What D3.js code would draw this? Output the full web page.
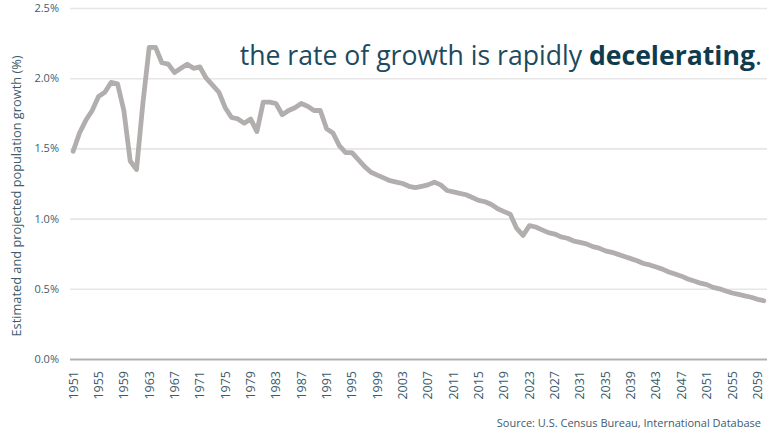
<!DOCTYPE html>
<html>
<head>
<meta charset="utf-8">
<script src="https://cdn.jsdelivr.net/npm/d3@7"></script>
<style>
  body { margin: 0; background: #fff; }
  svg { display: block; font-family: "Open Sans", sans-serif; }
</style>
</head>
<body>
<svg id="chart"></svg>
<script>
// world population growth rate, % per year
const years = d3.range(1951, 2061);
const growth = [
  1.48, 1.61, 1.70, 1.77, 1.87, 1.90, 1.97, 1.96, 1.77, 1.41,
  1.35, 1.82, 2.22, 2.22, 2.11, 2.10, 2.04, 2.07, 2.10, 2.07,
  2.08, 2.00, 1.95, 1.90, 1.79, 1.72, 1.71, 1.68, 1.71, 1.62,
  1.83, 1.83, 1.82, 1.74, 1.77, 1.79, 1.82, 1.80, 1.77, 1.77,
  1.64, 1.61, 1.52, 1.47, 1.47, 1.42, 1.37, 1.33, 1.31, 1.29,
  1.27, 1.26, 1.25, 1.23, 1.22, 1.23, 1.24, 1.26, 1.24, 1.20,
  1.19, 1.18, 1.17, 1.15, 1.13, 1.12, 1.10, 1.07, 1.05, 1.03,
  0.93, 0.88, 0.95, 0.94, 0.92, 0.90, 0.89, 0.87, 0.86, 0.84,
  0.83, 0.82, 0.80, 0.79, 0.77, 0.76, 0.745, 0.73, 0.715, 0.70,
  0.68, 0.67, 0.655, 0.64, 0.62, 0.605, 0.59, 0.57, 0.555, 0.54,
  0.53, 0.51, 0.50, 0.485, 0.47, 0.46, 0.45, 0.44, 0.425, 0.415
];
const yTicks = [0, 0.5, 1.0, 1.5, 2.0, 2.5];
const xTickYears = years.filter(d => (d - 1951) % 4 === 0);

const width = 779, height = 432;
const margin = {top: 8, right: 12, bottom: 73, left: 70};

const svg = d3.select("#chart")
    .attr("width", width)
    .attr("height", height);

const x = d3.scaleBand()
    .domain(years)
    .range([margin.left, width - margin.right]);

const y = d3.scaleLinear()
    .domain([0, 2.5])
    .range([height - margin.bottom, margin.top]);

const axisColor = "#3c5c6c";

// grid + y labels
svg.append("g")
    .attr("transform", `translate(${margin.left},0)`)
    .call(d3.axisLeft(y).tickValues(yTicks).tickFormat(d => d.toFixed(1) + "%").tickSize(0).tickPadding(11))
    .call(g => g.select(".domain").remove())
    .call(g => g.selectAll(".tick text")
        .attr("fill", axisColor)
        .attr("font-size", 11)
        .attr("font-family", "Open Sans"))
    .call(g => g.selectAll(".tick").append("line")
        .attr("x2", width - margin.right - margin.left)
        .attr("stroke", d => d === 0 ? "#b3b0b0" : "#e6e6e6")
        .attr("stroke-width", d => d === 0 ? 2.2 : 1.6));

// x labels, rotated
svg.append("g")
    .attr("transform", `translate(0,${height - margin.bottom})`)
    .call(d3.axisBottom(x).tickValues(xTickYears).tickSize(0))
    .call(g => g.select(".domain").remove())
    .call(g => g.selectAll(".tick text")
        .attr("fill", axisColor)
        .attr("font-size", 12.5)
        .attr("font-family", "Open Sans")
        .attr("transform", "rotate(-90)")
        .attr("text-anchor", "end")
        .attr("x", -12)
        .attr("y", 0)
        .attr("dy", "0.35em"));

// y title
svg.append("text")
    .attr("transform", "translate(21,196) rotate(-90)")
    .attr("text-anchor", "middle")
    .attr("fill", axisColor)
    .attr("font-size", 12.8)
    .text("Estimated and projected population growth (%)");

// the line
const line = d3.line()
    .x((d, i) => x(years[i]) + x.bandwidth() / 2)
    .y(d => y(d));

svg.append("path")
    .datum(growth)
    .attr("fill", "none")
    .attr("stroke", "#b2aeae")
    .attr("stroke-width", 4.8)
    .attr("stroke-linejoin", "round")
    .attr("stroke-linecap", "round")
    .attr("d", line);

// headline
const title = svg.append("text")
    .attr("x", 762)
    .attr("y", 65)
    .attr("text-anchor", "end")
    .attr("fill", "#1d4a5e")
    .attr("font-size", 26.6);
title.append("tspan").text("the rate of growth is rapidly ");
title.append("tspan").attr("font-weight", "bold").attr("fill", "#0f3b4f").text("decelerating");
title.append("tspan").text(".");

// source
svg.append("text")
    .attr("x", 761)
    .attr("y", 427)
    .attr("text-anchor", "end")
    .attr("fill", axisColor)
    .attr("font-size", 11)
    .text("Source: U.S. Census Bureau, International Database");
</script>
</body>
</html>
